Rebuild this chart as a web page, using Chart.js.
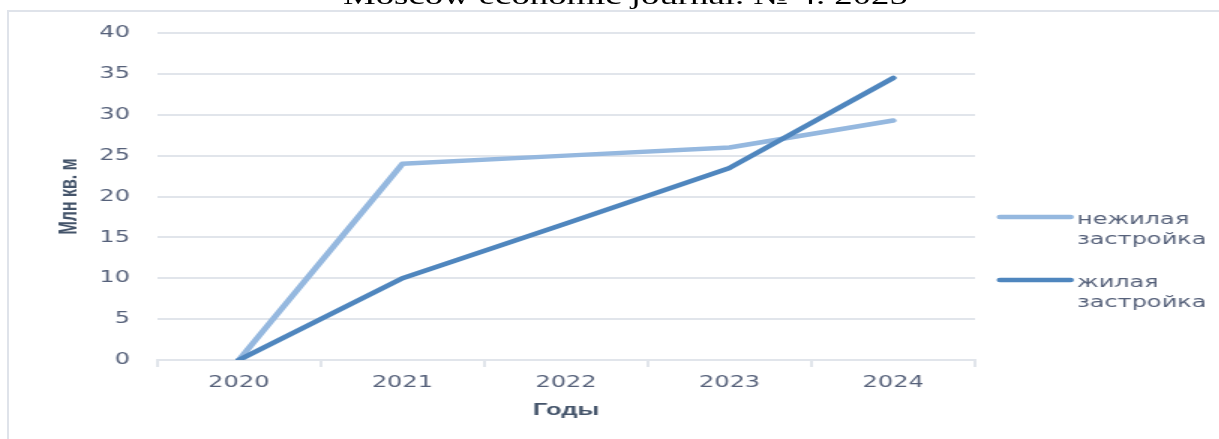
<!DOCTYPE html>
<html>
<head>
<meta charset="utf-8">
<script src="https://cdn.jsdelivr.net/npm/chart.js@4.4.1/dist/chart.umd.min.js"></script>
<style>
    html, body { margin: 0; padding: 0; background: #fff; width: 1219px; height: 439px; overflow: hidden; }
    #frame { position: absolute; left: 7px; top: 10px; width: 1300px; height: 500px; border: 2px solid #dfe3ea; box-sizing: border-box; }
    /* the source picture is stretched sideways, so the whole chart is drawn narrow and scaled */
    #wrap { position: absolute; left: 0; top: 0; width: 813px; height: 439px; transform: scaleX(1.5); transform-origin: 0 0; }
    #head { position: absolute; left: 228.7px; top: -16.5px; font: 24.5px/24.5px "Liberation Serif", serif; color: #000; white-space: nowrap; }
</style>
</head>
<body>
<div id="frame"></div>
<div id="wrap">
    <div id="head">Moscow economic journal. № 4. 2025</div>
    <canvas id="chart"></canvas>
</div>
<script>
var years = ["2020", "2021", "2022", "2023", "2024"];
var nonResidential = [0, 24, 25, 26, 29.3];
var residential = [0, 10, 16.7, 23.5, 34.5];
var seriesNames = ["нежилая застройка", "жилая застройка"];
var seriesColors = ["#95b8df", "#4f86be"];
var yMin = 0, yMax = 40, yStep = 5;
var xTitle = "Годы";
var yTitle = "Млн кв. м";

var tickColor = "#56617a";
var titleColor = "#44546a";
var gridColor = "#e1e5eb";

// legend on the right, every label broken into two lines
var sideLegend = {
    id: "sideLegend",
    afterDraw: function (chart) {
        var ctx = chart.ctx;
        var x0 = chart.chartArea.right + 16.7;
        var rows = [217, 280];
        ctx.save();
        chart.data.datasets.forEach(function (ds, i) {
            var y = rows[i];
            ctx.strokeStyle = ds.borderColor;
            ctx.lineWidth = 4.5;
            ctx.lineCap = "round";
            ctx.beginPath();
            ctx.moveTo(x0, y);
            ctx.lineTo(x0 + 47, y);
            ctx.stroke();
            ctx.fillStyle = tickColor;
            ctx.font = "16px 'DejaVu Sans'";
            ctx.textBaseline = "middle";
            ctx.textAlign = "left";
            ds.label.split(" ").forEach(function (word, j) {
                ctx.fillText(word, x0 + 51.3, y + 3 + j * 20);
            });
        });
        ctx.restore();
    }
};

new Chart(document.getElementById("chart"), {
    type: "line",
    data: {
        labels: years,
        datasets: [
            {
                label: seriesNames[0],
                data: nonResidential,
                borderColor: seriesColors[0],
                order: 2
            },
            {
                label: seriesNames[1],
                data: residential,
                borderColor: seriesColors[1],
                order: 1
            }
        ]
    },
    options: {
        responsive: true,
        maintainAspectRatio: false,
        animation: false,
        events: [],
        layout: { padding: { left: 0, right: 163, top: 33, bottom: 18.4 } },
        elements: {
            line: { borderWidth: 4.5, borderCapStyle: "round", borderJoinStyle: "round", tension: 0 },
            point: { radius: 0 }
        },
        plugins: {
            legend: { display: false },
            tooltip: { enabled: false }
        },
        scales: {
            x: {
                offset: true,
                grid: { offset: true, drawOnChartArea: false, drawTicks: true, tickLength: 7, color: gridColor, lineWidth: 2 },
                border: { color: gridColor, width: 2 },
                ticks: { color: tickColor, font: { family: "DejaVu Sans", size: 16 }, padding: 6, maxRotation: 0 },
                title: { display: true, text: xTitle, color: titleColor, font: { family: "Liberation Sans", size: 17, weight: "bold" }, padding: 0 },
                afterFit: function (scale) { scale.height = 60.6; }
            },
            y: {
                min: yMin,
                max: yMax,
                grid: { drawTicks: false, color: gridColor, lineWidth: 2 },
                border: { display: false },
                ticks: { stepSize: yStep, color: tickColor, font: { family: "DejaVu Sans", size: 16 }, padding: 18 },
                title: { display: true, text: yTitle, color: titleColor, font: { family: "Liberation Sans", size: 16, weight: "bold" }, padding: { top: 36.5, bottom: 0 } },
                afterFit: function (scale) { scale.width = 104.7; }
            }
        }
    },
    plugins: [sideLegend]
});
</script>
</body>
</html>
